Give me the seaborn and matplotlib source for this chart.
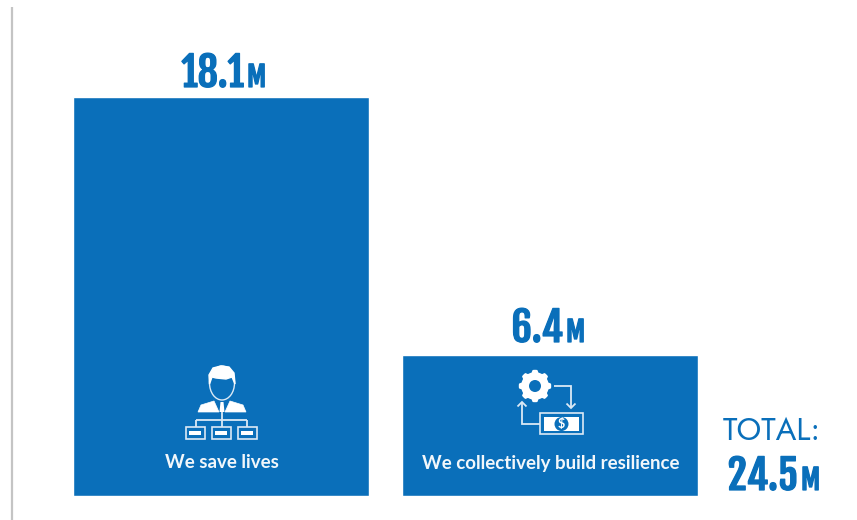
import seaborn as sns
import matplotlib.pyplot as plt
import matplotlib.patches as mp
import matplotlib.patheffects as pe
import numpy as np
import pandas as pd
import logging

categories = ["We save lives", "We collectively build resilience"]
values = [18.1, 6.4]
total = 24.5

BLUE = "#0a6fba"
W, H = 857, 520

logging.getLogger("matplotlib.font_manager").setLevel(logging.ERROR)
sns.set_style("white")
plt.rcParams["font.family"] = ["Lato", "DejaVu Sans"]
NARROW = ["Fjalla One", "Liberation Sans"]
GEO = ["Jost", "Lato"]

fig = plt.figure(figsize=(W / 100, H / 100), dpi=100)

# bar axes placed so the bars land where they do in the picture
ax = fig.add_axes([56.5 / W, (H - 496) / H, 658 / W, 399 / H])
df = pd.DataFrame({"cat": categories, "val": values})
sns.barplot(data=df, x="cat", y="val", color=BLUE, saturation=1, width=0.9, ax=ax)
ax.set_xlim(-0.5, 1.5)
ax.set_ylim(0, values[0])
ax.axis("off")

# pixel overlay for the labels and icons
ov = fig.add_axes([0, 0, 1, 1], zorder=5)
ov.set_xlim(0, W)
ov.set_ylim(H, 0)
ov.axis("off")
ov.patch.set_alpha(0)

heavy = [pe.withStroke(linewidth=0.9, foreground=BLUE)]


def line(xs, ys, lw=1.3, color="#dbe9f5"):
    ov.plot(xs, ys, color=color, lw=lw, solid_capstyle="butt", solid_joinstyle="miter")


def arrow(xs, ys):
    line(xs, ys)
    d = 1 if ys[-1] > ys[-2] else -1
    x, y = xs[-1], ys[-1]
    line([x - 4.5, x, x + 4.5], [y - d * 4.5, y, y - d * 4.5])


def big_label(right_num, base, num, size=29, msize=20, color=BLUE):
    ov.text(right_num, base, num, family=NARROW, weight="bold", fontsize=size,
            color=color, ha="right", va="baseline", path_effects=heavy)
    ov.text(right_num + 3, base, "M", family=NARROW, weight="bold", fontsize=msize,
            color=color, ha="left", va="baseline", path_effects=heavy)


# left rule
line([12.5, 12.5], [7, 520], lw=1.6, color="#c4c4c4")

big_label(244, 87, str(values[0]))
big_label(563, 342, str(values[1]))
ov.text(772, 440, "TOTAL:", family=GEO, fontsize=22.5, color=BLUE, ha="center", va="baseline")
big_label(798, 490, str(total))

ov.text(222, 462, categories[0], color="#f2f7fb", weight="bold", fontsize=13.5, ha="center", va="center")
ov.text(550.5, 464, categories[1], color="#f2f7fb", weight="bold", fontsize=13.5, ha="center", va="center")

# person icon
ov.add_patch(mp.Ellipse((222, 383), 25, 34, fc=BLUE, ec="#dbe9f5", lw=1))
ov.add_patch(mp.Polygon([(209.5, 384), (209, 375), (213, 368), (221, 366), (229, 367), (234, 373),
                         (235, 384), (232, 377), (226, 379), (216, 378), (212, 377)],
                        fc="white", ec="white", lw=1))
ov.add_patch(mp.Polygon([(198, 412), (201, 405), (214, 401), (219, 412)], fc="white", ec="white", lw=0.5))
ov.add_patch(mp.Polygon([(246, 412), (243, 405), (230, 401), (225, 412)], fc="white", ec="white", lw=0.5))
ov.add_patch(mp.Polygon([(220.5, 402), (223.5, 402), (224.5, 412), (219.5, 412)], fc="white", ec="none"))
line([222, 222], [412, 427])
line([196, 196], [427, 420])
line([247, 247], [427, 420])
line([196, 247], [420, 420])
for bx in [186, 212, 238]:
    ov.add_patch(mp.Rectangle((bx, 427), 19, 12, fc=BLUE, ec="#dbe9f5", lw=1.2))
    ov.add_patch(mp.Rectangle((bx + 3.5, 431), 12, 4, fc="white", ec="none"))

# gear icon
ang = np.linspace(0, 2 * np.pi, 241)
rad = 15 + 1.2 * np.clip(2.5 * np.cos(8 * ang), -1, 1)
ov.fill(535 + rad * np.cos(ang), 386 + rad * np.sin(ang), color="white", lw=0)
ov.add_patch(mp.Circle((535, 386), 6, fc=BLUE, ec="none"))
arrow([554, 571, 571], [386, 386, 408])
arrow([540, 522, 522], [424, 424, 402])

# banknote
ov.add_patch(mp.Rectangle((540, 413), 43, 21, fc=BLUE, ec="#dbe9f5", lw=1.2))
ov.add_patch(mp.Rectangle((544, 417), 35, 13.5, fc="white", ec="none"))
ov.add_patch(mp.Circle((561.5, 424), 7, fc=BLUE, ec="none"))
ov.text(561.5, 424, "$", color="white", fontsize=9, weight="bold", ha="center", va="center")

fig.savefig("out.png", dpi=100)
